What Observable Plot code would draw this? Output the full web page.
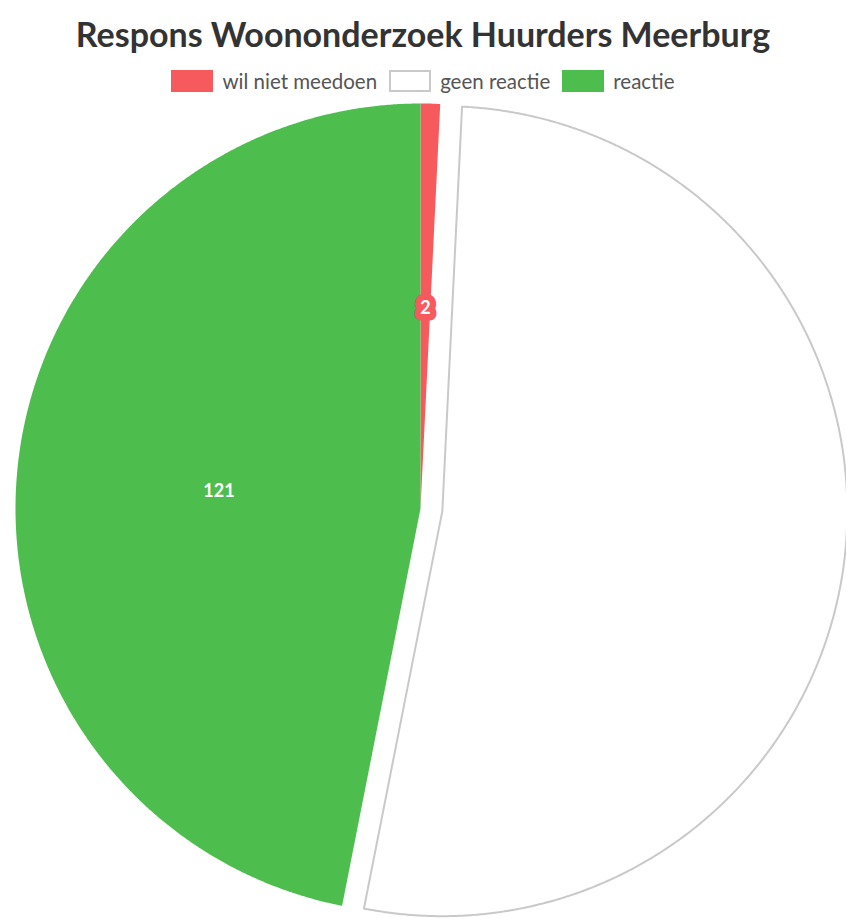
<!DOCTYPE html>
<html>
<head>
<meta charset="utf-8">
<script src="https://cdn.jsdelivr.net/npm/d3@7"></script>
<script src="https://cdn.jsdelivr.net/npm/@observablehq/plot@0.6"></script>
<style>
  html, body { margin: 0; padding: 0; background: #fff; }
  body { width: 846px; height: 918px; position: relative; overflow: hidden; font-family: Lato, "Open Sans", sans-serif; }
  #title { position: absolute; top: 0; left: 0; width: 846px; height: 68px; line-height: 68px; text-align: center;
           font-weight: bold; font-size: 34px; color: #333; }
  #legend { position: absolute; top: 70px; left: 0; width: 846px; height: 22px; display: flex; justify-content: center; align-items: center;
            font-size: 20.5px; color: #555; }
  .item { display: flex; align-items: center; margin: 0 6px; }
  .sw { width: 42px; height: 22px; margin-right: 9px; box-sizing: border-box; }
  #chart { position: absolute; top: 98px; left: 0; }
</style>
</head>
<body>
<div id="title"></div>
<div id="legend"></div>
<div id="chart"></div>
<script>
const title = "Respons Woononderzoek Huurders Meerburg";
const categories = ["wil niet meedoen", "geen reactie", "reactie"];
const values = [2, 135, 121];
const colors = ["#f65a5c", "#ffffff", "#4dbe4d"];
const borders = ["#f65a5c", "#c9c9c9", "#4dbe4d"];
const showLabel = [true, false, true];
const exploded = [false, true, false];

document.getElementById("title").textContent = title;
const legend = document.getElementById("legend");
categories.forEach((c, i) => {
  const it = document.createElement("div");
  it.className = "item";
  const sw = document.createElement("div");
  sw.className = "sw";
  sw.style.background = colors[i];
  sw.style.border = "2px solid " + borders[i];
  const t = document.createElement("span");
  t.textContent = c;
  it.appendChild(sw); it.appendChild(t);
  legend.appendChild(it);
});

// pie geometry (in pixel-like data units, center at 0,0)
const R = 405;
const OFFSET = 22;
const pie = d3.pie().sort(null).value(d => d.value);
const slices = pie(categories.map((c, i) => ({name: c, value: values[i], i})));

const polys = [];
const labels = [];
slices.forEach(s => {
  const i = s.data.i;
  const mid = (s.startAngle + s.endAngle) / 2;
  const off = exploded[i] ? OFFSET : 0;
  const ox = off * Math.sin(mid), oy = off * Math.cos(mid);
  const pts = [{x: ox, y: oy}];
  const n = Math.max(4, Math.ceil((s.endAngle - s.startAngle) / 0.005));
  for (let k = 0; k <= n; k++) {
    const a = s.startAngle + (s.endAngle - s.startAngle) * k / n;
    pts.push({x: ox + R * Math.sin(a), y: oy + R * Math.cos(a)});
  }
  pts.push({x: ox, y: oy});
  pts.forEach((p, j) => polys.push({...p, name: s.data.name, order: j}));
  if (showLabel[i]) labels.push({name: s.data.name, value: s.data.value, x: ox + R / 2 * Math.sin(mid), y: oy + R / 2 * Math.cos(mid)});
});

const chart = Plot.plot({
  width: 846,
  height: 820,
  margin: 0,
  x: {domain: [-420, 426], axis: null},
  y: {domain: [-410, 410], axis: null},
  color: {domain: categories, range: colors},
  marks: [
    Plot.line(polys, {x: "x", y: "y", z: "name", fill: "name", stroke: "none"}),
    Plot.line(polys.filter(d => d.name === "geen reactie"), {x: "x", y: "y", z: "name", stroke: "#c9c9c9", strokeWidth: 2}),
    Plot.text(labels, {x: "x", y: "y", text: d => String(d.value), fill: "#fff", fontWeight: "bold", fontSize: 18,
      fontFamily: "Lato", stroke: "name", strokeWidth: d => d.value < 10 ? 13 : 0, strokeLinejoin: "round", dy: 2})
  ]
});
document.getElementById("chart").appendChild(chart);
</script>
</body>
</html>
